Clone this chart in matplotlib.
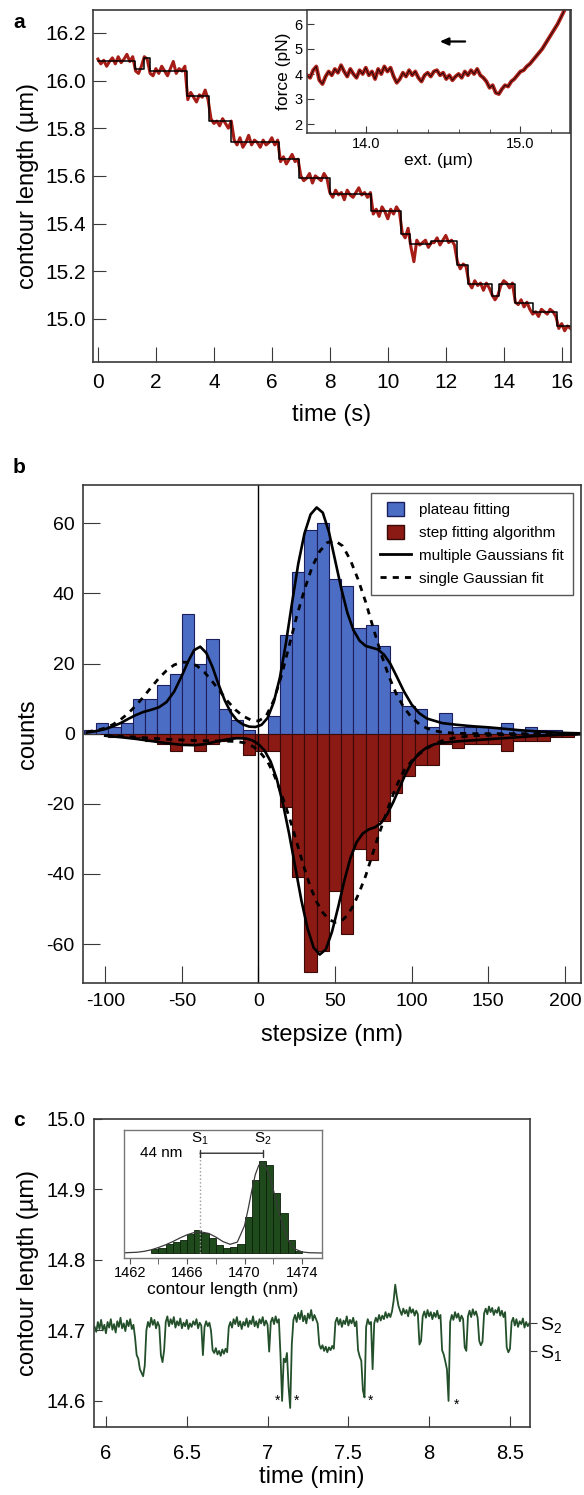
import numpy as np
import matplotlib
matplotlib.use("Agg")
import matplotlib.pyplot as plt
from matplotlib.patches import Patch, Rectangle
from matplotlib.lines import Line2D
from matplotlib.legend_handler import HandlerPatch

plt.rcParams['font.family'] = ['Liberation Sans', 'DejaVu Sans']
plt.rcParams['mathtext.fontset'] = 'custom'
plt.rcParams['mathtext.rm'] = 'Liberation Sans'
plt.rcParams['mathtext.it'] = 'Liberation Sans:italic'
plt.rcParams['axes.unicode_minus'] = False

# ---------------- Panel a data ----------------
a_trace = [16.09, 16.07, 16.085, 16.06, 16.08, 16.095, 16.07, 16.10, 16.075, 16.09, 16.11, 16.08, 16.10,
           16.04, 16.03, 16.06,
           16.10, 16.09,
           16.03, 16.02, 16.05, 16.03, 16.06, 16.04, 16.02, 16.05, 16.08, 16.03, 16.05, 16.04, 16.06,
           15.92, 15.95, 15.93, 15.91, 15.94, 15.93, 15.96, 15.92,
           15.84, 15.82, 15.83, 15.81, 15.84, 15.82, 15.80, 15.83,
           15.75, 15.73, 15.76, 15.72, 15.74, 15.77, 15.73, 15.75, 15.74, 15.72, 15.75, 15.73, 15.74, 15.76, 15.73, 15.75,
           15.66, 15.68, 15.65, 15.67, 15.69, 15.66, 15.67,
           15.60, 15.58, 15.59, 15.61, 15.57, 15.60, 15.59, 15.58, 15.61, 15.59,
           15.53, 15.51, 15.54, 15.52, 15.53, 15.50, 15.54, 15.52, 15.51, 15.53, 15.55, 15.52, 15.53, 15.51, 15.53,
           15.44, 15.46, 15.43, 15.47, 15.45, 15.42, 15.46, 15.44, 15.47, 15.45,
           15.36, 15.34, 15.38,
           15.30, 15.24, 15.33, 15.31, 15.32, 15.33, 15.30, 15.32,
           15.32, 15.34, 15.31, 15.33, 15.35, 15.32, 15.33, 15.31,
           15.24, 15.21, 15.23, 15.22,
           15.15, 15.13, 15.16, 15.14, 15.15, 15.12, 15.15, 15.13,
           15.10, 15.08, 15.10,
           15.14, 15.16, 15.15, 15.13, 15.15,
           15.07, 15.06, 15.08, 15.05, 15.07, 15.04,
           15.02, 15.03, 15.01, 15.04, 15.03, 15.02, 15.04, 15.03, 15.01,
           14.96, 14.98, 14.95, 14.97, 14.96]
a_step_times = [0, 1.27, 1.6, 1.78, 3.06, 3.83, 4.6, 6.26, 6.95, 8.0, 9.43, 10.45, 10.75, 11.5,
                12.37, 12.75, 13.6, 13.85, 14.4, 15.0, 15.85, 16.3]
a_step_levels = [16.08, 16.05, 16.095, 16.04, 15.935, 15.83, 15.742, 15.67, 15.59, 15.525, 15.452,
                 15.355, 15.315, 15.325, 15.228, 15.148, 15.095, 15.147, 15.067, 15.028, 14.97]
a_xticks = [0, 2, 4, 6, 8, 10, 12, 14, 16]
a_yticks = [15.0, 15.2, 15.4, 15.6, 15.8, 16.0, 16.2]

inset_force = [3.95, 3.85, 4.15, 4.30, 3.75, 3.60, 3.90, 4.10, 3.95, 4.20, 4.05, 4.35, 4.10, 3.90, 4.20, 4.00,
               3.85, 4.15, 4.00, 4.25, 3.95, 4.10, 3.80, 4.20, 4.00, 4.30, 4.10, 4.25, 3.90, 3.65, 3.80, 4.05,
               3.90, 4.15, 3.95, 4.10, 3.85, 3.70, 3.95, 4.05, 3.90, 4.10, 4.15, 3.95, 4.05, 3.80, 3.95, 3.75,
               3.90, 4.00, 3.85, 4.10, 3.95, 4.15, 4.00, 4.20, 3.95, 3.85, 3.70, 3.45, 3.55, 3.25, 3.20, 3.40,
               3.55, 3.50, 3.70, 3.80, 3.95, 4.10, 4.15, 4.30, 4.40, 4.55, 4.70, 4.85, 5.00, 5.20, 5.40, 5.60,
               5.80, 6.00, 6.25, 6.50]
inset_ext_range = (13.62, 15.28)

# ---------------- Panel b data ----------------
b_bin_centers = list(range(-110, 206, 8))
b_plateau = [1, 3, 2, 3, 10, 10, 14, 17, 34, 20, 27, 7, 4, 1, 0, 5, 28, 46, 58, 60,
             44, 42, 30, 31, 25, 12, 8, 7, 2, 6, 2, 2, 2, 2, 3, 1, 2, 1, 1, 0]
b_stepfit = [0, 0, 1, 1, 1, 2, 3, 5, 3, 5, 3, 2, 1, 6, 5, 5, 21, 41, 68, 62,
             45, 57, 33, 36, 25, 17, 12, 9, 9, 3, 4, 3, 3, 3, 5, 2, 2, 2, 1, 1]

multi_pos_x = [-112, -105, -100, -95, -90, -85, -80, -75, -70, -65, -60, -55, -50, -46, -42, -38, -34, -30,
               -26, -22, -18, -14, -10, -6, -2, 2, 6, 10, 14, 18, 22, 26, 30, 34, 38, 42, 46, 50, 54, 58,
               62, 66, 70, 74, 78, 82, 86, 90, 95, 100, 105, 110, 120, 130, 140, 150, 160, 170, 180, 190,
               200, 210]
multi_pos_y = [0.3, 0.8, 1.3, 2.1, 3.0, 4.2, 5.3, 6.2, 6.8, 7.5, 9.0, 12.0, 16.5, 20.5, 23.8, 24.8, 23.0,
               19.0, 14.0, 9.5, 6.0, 3.8, 2.6, 2.0, 1.9, 2.5, 4.5, 9.0, 16.0, 26.0, 37.5, 48.5, 57.0, 62.5,
               64.5, 63.0, 57.5, 49.5, 41.5, 34.5, 29.5, 26.5, 25.0, 24.5, 24.0, 22.5, 20.0, 16.5, 12.0, 8.3,
               5.8, 4.3, 3.0, 2.5, 2.1, 1.8, 1.4, 1.0, 0.7, 0.4, 0.2, 0.1]
single_pos_x = [-112, -105, -100, -95, -90, -85, -80, -75, -70, -65, -60, -55, -50, -45, -40, -35, -30, -25,
                -20, -15, -10, -5, 0, 5, 10, 15, 20, 25, 30, 35, 40, 45, 50, 55, 60, 65, 70, 75, 80, 85,
                90, 95, 100, 105, 110, 115, 120, 130, 140, 150, 170, 210]
single_pos_y = [0.5, 1.0, 1.6, 2.6, 4.0, 5.8, 8.0, 10.5, 13.2, 15.8, 18.0, 19.6, 20.4, 20.3, 19.3, 17.4,
                14.8, 12.0, 9.2, 6.8, 5.0, 3.9, 3.6, 5.0, 9.5, 16.5, 25.0, 33.5, 41.0, 47.5, 52.0, 54.5,
                55.0, 53.5, 49.5, 44.0, 37.5, 30.0, 22.8, 16.5, 11.3, 7.4, 4.6, 2.7, 1.5, 0.8, 0.4, 0.1,
                0.0, 0.0, 0.0, 0.0]
multi_neg_x = [-100, -90, -80, -70, -60, -50, -42, -35, -28, -20, -14, -8, -4, 0, 4, 8, 12, 16, 20, 24, 28,
               32, 36, 40, 44, 48, 52, 56, 60, 64, 68, 72, 76, 80, 84, 88, 92, 96, 100, 105, 110, 115, 120,
               130, 140, 150, 160, 170, 180, 190, 200, 210]
multi_neg_y = [-0.6, -1.0, -1.5, -2.1, -2.7, -3.2, -3.3, -3.0, -2.3, -1.6, -1.3, -1.4, -1.9, -3.0, -4.8,
               -8.0, -13.0, -20.0, -28.5, -38.0, -47.5, -55.5, -61.0, -63.0, -61.5, -56.5, -49.5, -42.0,
               -35.5, -31.0, -28.5, -27.3, -26.7, -25.5, -23.0, -19.5, -15.5, -11.5, -8.2, -5.5, -3.9, -3.0,
               -2.6, -2.2, -1.9, -1.6, -1.3, -1.0, -0.7, -0.5, -0.3, -0.2]
single_neg_x = [-100, -80, -60, -40, -25, -15, -8, -3, 2, 6, 10, 14, 18, 22, 26, 30, 34, 38, 42, 46, 50, 54,
                58, 62, 66, 70, 74, 78, 82, 86, 90, 95, 100, 105, 110, 115, 120, 130, 140, 160, 180, 210]
single_neg_y = [-0.5, -1.0, -1.6, -2.0, -2.1, -2.2, -2.7, -3.8, -5.8, -8.0, -11.5, -16.0, -21.0, -26.5,
                -32.5, -38.5, -43.8, -48.0, -51.0, -53.0, -53.8, -53.5, -51.8, -49.0, -45.0, -40.5, -35.0,
                -29.5, -24.5, -19.5, -15.0, -10.5, -7.8, -5.8, -4.2, -2.9, -2.0, -1.0, -0.6, -0.3, -0.2, -0.1]
b_xticks = [-100, -50, 0, 50, 100, 150, 200]
b_yticks = [-60, -40, -20, 0, 20, 40, 60]
b_legend = ['plateau fitting', 'step fitting algorithm', 'multiple Gaussians fit', 'single Gaussian fit']

# ---------------- Panel c data ----------------
c_trace = [14.705, 14.698, 14.712, 14.702, 14.715, 14.700, 14.708, 14.696, 14.712, 14.704,
           14.716, 14.701, 14.709, 14.697, 14.713, 14.705, 14.718, 14.703, 14.710, 14.699,
           14.714, 14.706, 14.716, 14.702, 14.708, 14.690, 14.665, 14.660, 14.645, 14.640,
           14.635, 14.650, 14.700, 14.712, 14.705, 14.718, 14.708, 14.715, 14.703, 14.712,
           14.706, 14.665, 14.655, 14.672, 14.712, 14.720, 14.706, 14.716, 14.709, 14.719,
           14.704, 14.713, 14.707, 14.717, 14.703, 14.711, 14.706, 14.715, 14.702, 14.710,
           14.705, 14.713, 14.708, 14.716, 14.703, 14.711, 14.707, 14.665, 14.705, 14.713,
           14.706, 14.711, 14.700, 14.672, 14.668, 14.675, 14.666, 14.671, 14.664, 14.673,
           14.667, 14.674, 14.669, 14.705, 14.712, 14.704, 14.716, 14.709, 14.719, 14.706,
           14.713, 14.702, 14.712, 14.707, 14.717, 14.705, 14.714, 14.709, 14.720, 14.706,
           14.713, 14.704, 14.716, 14.710, 14.719, 14.707, 14.714, 14.708, 14.670, 14.712,
           14.718, 14.709, 14.720, 14.711, 14.716, 14.665, 14.600, 14.660, 14.655, 14.668,
           14.620, 14.590, 14.680, 14.715, 14.722, 14.712, 14.725, 14.716, 14.728, 14.713,
           14.721, 14.710, 14.724, 14.717, 14.729, 14.714, 14.722, 14.716, 14.710, 14.680,
           14.674, 14.679, 14.671, 14.677, 14.669, 14.676, 14.672, 14.678, 14.674, 14.712,
           14.718, 14.708, 14.716, 14.705, 14.714, 14.709, 14.720, 14.707, 14.715, 14.710,
           14.718, 14.706, 14.713, 14.672, 14.663, 14.657, 14.615, 14.605, 14.705, 14.716,
           14.709, 14.712, 14.645, 14.710, 14.718, 14.712, 14.722, 14.714, 14.721, 14.716,
           14.726, 14.718, 14.724, 14.719, 14.727, 14.742, 14.765, 14.748, 14.735, 14.728,
           14.722, 14.731, 14.724, 14.729, 14.720, 14.733, 14.725, 14.730, 14.721, 14.728,
           14.723, 14.680, 14.685, 14.720, 14.727, 14.718, 14.729, 14.720, 14.726, 14.716,
           14.725, 14.719, 14.728, 14.717, 14.722, 14.672, 14.666, 14.656, 14.645, 14.600,
           14.712, 14.722, 14.715, 14.726, 14.718, 14.724, 14.713, 14.721, 14.716, 14.676,
           14.671, 14.720, 14.728, 14.719, 14.730, 14.722, 14.727, 14.718, 14.685, 14.679,
           14.684, 14.724, 14.731, 14.723, 14.734, 14.726, 14.732, 14.722, 14.729, 14.725,
           14.733, 14.721, 14.728, 14.719, 14.726, 14.676, 14.669, 14.674, 14.712, 14.718,
           14.707, 14.716, 14.705, 14.713, 14.709, 14.717, 14.704, 14.712, 14.706, 14.710]
c_time_range = (5.93, 8.62)
c_star_t = [7.06, 7.18, 7.64, 8.17]
c_star_y = [14.600, 14.600, 14.600, 14.594]
c_state_levels = [14.711, 14.671]
c_state_labels = ['S$_2$', 'S$_1$']
c_xticks = [6, 6.5, 7, 7.5, 8, 8.5]
c_xticklabels = ['6', '6.5', '7', '7.5', '8', '8.5']
c_yticks = [14.6, 14.7, 14.8, 14.9, 15.0]

ci_bin_centers = [1463.75, 1464.25, 1464.75, 1465.25, 1465.75, 1466.25, 1466.75, 1467.25, 1467.75,
                  1468.25, 1468.75, 1469.25, 1469.75, 1470.25, 1470.75, 1471.25, 1471.75, 1472.25,
                  1472.75, 1473.25, 1473.75]
ci_counts = [4, 5, 10, 12, 14, 21, 25, 22, 16, 9, 5, 7, 10, 40, 80, 101, 97, 66, 44, 14, 2]
ci_fit_x = [1461.6, 1462.5, 1463, 1463.5, 1464, 1464.5, 1465, 1465.5, 1466, 1466.5, 1467, 1467.5, 1468,
            1468.5, 1469, 1469.5, 1470, 1470.25, 1470.5, 1470.75, 1471, 1471.25, 1471.5, 1471.75, 1472,
            1472.25, 1472.5, 1472.75, 1473, 1473.25, 1473.5, 1474, 1474.5, 1475.4]
ci_fit_y = [0.2, 0.8, 1.8, 3.5, 6.0, 9.0, 12.5, 16.5, 20.0, 22.5, 23.0, 21.5, 17.5, 12.5, 9.5, 12.0, 30.0,
            48.0, 68.0, 86.0, 96.5, 98.5, 94.0, 84.0, 70.0, 54.0, 39.0, 26.0, 15.5, 8.5, 4.5, 1.2, 0.3, 0.0]
ci_s1, ci_s2 = 1466.9, 1471.3
ci_xticks = [1462, 1466, 1470, 1474]
ci_minor = [1464, 1468, 1472]

# ---------------- Figure ----------------
W, H = 584, 1495
fig = plt.figure(figsize=(W / 100, H / 100), dpi=100)


def ax_px(l, t, r, b):
    return fig.add_axes([l / W, 1 - b / H, (r - l) / W, (b - t) / H])


SP = '#3a3a3a'


def style(ax, lw=1.2, color=SP):
    for s in ax.spines.values():
        s.set_linewidth(lw)
        s.set_color(color)


# ---- Panel a ----
axA = ax_px(93, 10, 571, 362)
style(axA)
tA = np.linspace(0, 16.3, len(a_trace))
axA.plot(tA, a_trace, color='#a51d16', lw=2.2)
axA.step(a_step_times, a_step_levels + [a_step_levels[-1]], where='post', color='black', lw=1.1)
axA.set_xlim(-0.17, 16.32)
axA.set_ylim(14.819, 16.296)
axA.set_xticks(a_xticks)
axA.set_yticks(a_yticks)
axA.set_yticklabels([f'{v:.1f}' for v in a_yticks])
axA.tick_params(direction='in', labelsize=15, color=SP)
axA.tick_params(axis='x', length=11, pad=8)
axA.tick_params(axis='y', length=9, pad=5)
axA.set_xlabel('time (s)', fontsize=17)
axA.set_ylabel('contour length (µm)', fontsize=17)
axA.xaxis.set_label_coords(0.5, -0.118)
axA.yaxis.set_label_coords(-0.113, 0.5)
fig.text(13 / W, 1 - 28 / H, 'a', fontsize=15, fontweight='bold')

axI = ax_px(307, 10, 570, 133)
style(axI, lw=1.1)
xI = np.linspace(inset_ext_range[0], inset_ext_range[1], len(inset_force))
axI.plot(xI, inset_force, color='#b0241b', lw=2.8)
axI.plot(xI, inset_force, color='#200505', lw=0.7)
axI.annotate('', xy=(14.46, 5.3), xytext=(14.66, 5.3),
             arrowprops=dict(arrowstyle='-|>,head_length=0.5,head_width=0.22', color='black', lw=1.6))
axI.set_xlim(13.62, 15.32)
axI.set_ylim(1.64, 6.56)
axI.set_xticks([14.0, 15.0])
axI.set_xticklabels(['14.0', '15.0'])
axI.set_xticks([13.8, 14.2, 14.4, 14.6, 14.8, 15.2], minor=True)
axI.set_yticks([2, 3, 4, 5, 6])
axI.tick_params(direction='in', labelsize=10.5, color=SP, pad=3)
axI.tick_params(which='major', length=5)
axI.tick_params(which='minor', length=3, direction='in', color=SP)
axI.set_xlabel('ext. (µm)', fontsize=12.5, labelpad=1)
axI.set_ylabel('force (pN)', fontsize=12.5, labelpad=3)

# ---- Panel b ----
axB = ax_px(83, 485, 581, 983)
style(axB)
BLUE, BLUE_E = '#4c6dc4', '#1b1f5e'
RED, RED_E = '#8a1a13', '#3b0907'
axB.bar(b_bin_centers, b_plateau, width=8, color=BLUE, edgecolor=BLUE_E, linewidth=0.8)
axB.bar(b_bin_centers, [-v for v in b_stepfit], width=8, color=RED, edgecolor=RED_E, linewidth=0.8)
axB.axvline(0, color='black', lw=1.0)
dash = (0, (2.2, 2.2))
axB.plot(single_pos_x, single_pos_y, color='black', lw=2.0, linestyle=dash)
axB.plot(single_neg_x, single_neg_y, color='black', lw=2.0, linestyle=dash)
axB.plot(multi_pos_x, multi_pos_y, color='black', lw=1.9)
axB.plot(multi_neg_x, multi_neg_y, color='black', lw=1.9)
axB.set_xlim(-114.5, 210.5)
axB.set_ylim(-71.1, 70.9)
axB.set_xticks(b_xticks)
axB.set_yticks(b_yticks)
axB.tick_params(direction='in', labelsize=14, color=SP, length=12)
axB.tick_params(axis='x', pad=7)
axB.tick_params(axis='y', pad=6)
axB.set_xlabel('stepsize (nm)', fontsize=17)
axB.set_ylabel('counts', fontsize=17)
axB.xaxis.set_label_coords(0.5, -0.083)
axB.yaxis.set_label_coords(-0.088, 0.5)


def small_patch(legend, orig_handle, xdescent, ydescent, width, height, fontsize):
    w = width * 0.55
    h = height * 1.0
    return Rectangle((-xdescent + (width - w) / 2, -ydescent + (height - h) / 2), w, h)


handles = [Patch(facecolor=BLUE, edgecolor=BLUE_E), Patch(facecolor=RED, edgecolor=RED_E),
           Line2D([], [], color='black', lw=2), Line2D([], [], color='black', lw=2, linestyle=(0, (2.2, 2.2)))]
leg = axB.legend(handles, b_legend, loc='upper right', bbox_to_anchor=(0.984, 0.984), borderaxespad=0,
                 fontsize=11.0, frameon=True, fancybox=False, framealpha=1, edgecolor='#555555',
                 handlelength=2.0, handleheight=1.05, borderpad=0.6, labelspacing=0.5, handletextpad=0.55,
                 handler_map={Patch: HandlerPatch(patch_func=small_patch)})
leg.get_frame().set_linewidth(1.0)
fig.text(13 / W, 1 - 473 / H, 'b', fontsize=15, fontweight='bold')

# ---- Panel c ----
axC = ax_px(94, 1119, 530, 1427)
style(axC)
tC = np.linspace(c_time_range[0], c_time_range[1], len(c_trace))
axC.plot(tC, c_trace, color='#23502a', lw=1.3)
for tx, ty in zip(c_star_t, c_star_y):
    axC.text(tx, ty, '*', fontsize=10, ha='center', va='center')
axC.set_xlim(5.926, 8.624)
axC.set_ylim(14.563, 15.0)
axC.set_xticks(c_xticks)
axC.set_xticklabels(c_xticklabels)
axC.set_yticks(c_yticks)
axC.set_yticklabels([f'{v:.1f}' for v in c_yticks])
axC.tick_params(direction='in', labelsize=14.5, color=SP)
axC.tick_params(axis='x', length=8, pad=12)
axC.tick_params(axis='y', length=6, pad=6)
axC.set_xlabel('time (min)', fontsize=17)
axC.set_ylabel('contour length (µm)', fontsize=17)
axC.xaxis.set_label_coords(0.5, -0.128)
axC.yaxis.set_label_coords(-0.126, 0.5)
axR = axC.twinx()
axR.set_ylim(axC.get_ylim())
for s in axR.spines.values():
    s.set_visible(False)
axR.set_yticks(c_state_levels)
axR.set_yticklabels(c_state_labels)
axR.tick_params(direction='out', length=5, labelsize=14, color=SP, pad=2)
fig.text(13 / W, 1 - 1126 / H, 'c', fontsize=15, fontweight='bold')

axIC = ax_px(124, 1130, 322, 1258)
style(axIC, lw=1.0, color='#777777')
axIC.bar(ci_bin_centers, ci_counts, width=0.5, color='#1f4a1c', edgecolor='#0b1f0b', linewidth=0.6)
axIC.plot(ci_fit_x, ci_fit_y, color='#3a3a3a', lw=0.9)
axIC.plot([ci_s1, ci_s1], [0, 109.5], color='#9a9a9a', ls=':', lw=1.0)
axIC.annotate('', xy=(ci_s1, 109.5), xytext=(ci_s2, 109.5),
              arrowprops=dict(arrowstyle='|-|,widthA=0.25,widthB=0.25', color='#333333', lw=1.0,
                              shrinkA=0, shrinkB=0))
axIC.text(ci_s1, 116, 'S$_1$', fontsize=11, ha='center', va='bottom')
axIC.text(ci_s2, 116, 'S$_2$', fontsize=11, ha='center', va='bottom')
axIC.text(1464.2, 109.5, '44 nm', fontsize=11, ha='center', va='center')
axIC.set_xlim(1461.6, 1475.4)
axIC.set_ylim(-5.5, 135)
axIC.set_yticks([])
axIC.set_xticks(ci_xticks)
axIC.set_xticks(ci_minor, minor=True)
axIC.tick_params(axis='x', which='both', direction='out', length=4, color='#555555', labelsize=10.5, pad=2)
axIC.set_xlabel('contour length (nm)', fontsize=12.5, labelpad=1)

fig.savefig('out.png', dpi=100)
